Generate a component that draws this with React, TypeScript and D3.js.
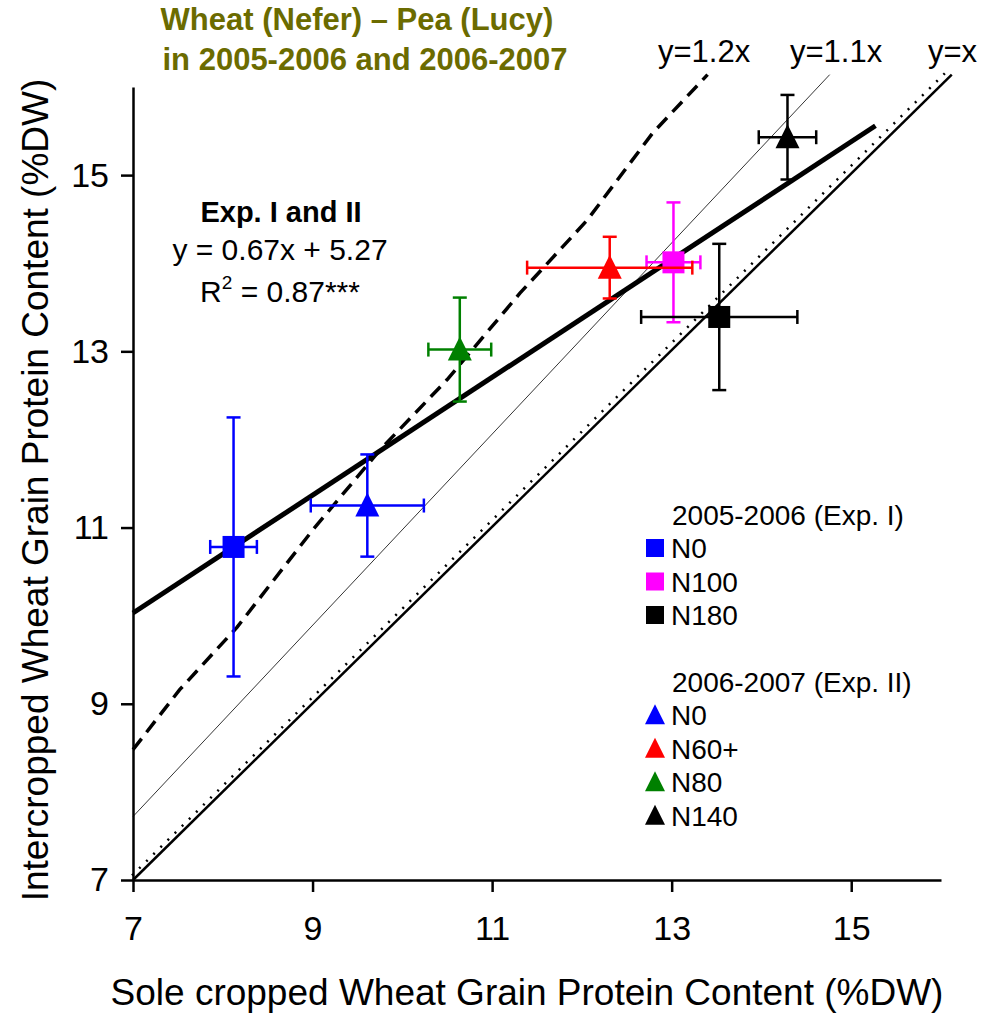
import React, { useEffect, useRef } from 'react'
import * as d3 from 'd3'

// treatment means with SE (x = sole crop, y = intercrop)
const treatments = ['N0', 'N100', 'N180', 'N0', 'N60+', 'N80', 'N140']
const experiment = ['I', 'I', 'I', 'II', 'II', 'II', 'II']
const soleMean = [8.12, 13.02, 13.53, 9.61, 12.31, 10.64, 14.29]
const soleErr = [0.26, 0.3, 0.87, 0.63, 0.92, 0.35, 0.32]
const interMean = [10.78, 14.01, 13.39, 11.25, 13.95, 13.02, 15.43]
const interErr = [1.47, 0.68, 0.83, 0.58, 0.35, 0.59, 0.48]
const pointColors = ['#0000ff', '#ff00ff', '#000000', '#0000ff', '#ff0000', '#008000', '#000000']

const expHeaders = ['2005-2006 (Exp. I)', '2006-2007 (Exp. II)']

// reference lines as drawn
const line12x = [7, 7.52, 8.16, 9.0, 9.75, 10.5, 11.31, 12.06, 12.79, 13.4]
const line12y = [8.48, 9.16, 9.87, 10.97, 11.88, 12.68, 13.66, 14.49, 15.48, 16.14]
const line11x = [7, 14.76]
const line11y = [7.72, 16.14]
const line1x = [7, 16.12]
const line1y = [7, 16.14]
const dottedX = [7, 16.08]
const dottedY = [7.04, 16.17]
const regX = [7, 15.27]
const regY = [10.03, 15.56]
const lineLabels = ['y=1.2x', 'y=1.1x', 'y=x']

const xTicks = [7, 9, 11, 13, 15]
const yTicks = [7, 9, 11, 13, 15]

const W = 982, H = 1014
const FONT = '"Liberation Sans", Arial, sans-serif'

const x = d3.scaleLinear().domain([7, 16]).range([133, 941])
const y = d3.scaleLinear().domain([7, 16]).range([880, 87])

const zip = (xs: number[], ys: number[]) => xs.map((v, i) => [v, ys[i]] as [number, number])
const line = d3.line<[number, number]>().x(d => x(d[0])).y(d => y(d[1]))

function Marker({ shape, color, cx, cy, s }: any) {
  if (shape === 'I') return <rect x={cx - s / 2} y={cy - s / 2} width={s} height={s} fill={color} />
  const h = s * 1.0
  return <path d={`M${cx},${cy - h * 0.54}L${cx + s / 2},${cy + h * 0.46}L${cx - s / 2},${cy + h * 0.46}Z`} fill={color} />
}

export default function App() {
  const xRef = useRef<SVGGElement>(null)
  const yRef = useRef<SVGGElement>(null)

  useEffect(() => {
    const gx = d3.select(xRef.current!)
    gx.selectAll('*').remove()
    gx.call(d3.axisBottom(x).tickValues(xTicks).tickSize(12).tickSizeOuter(0).tickPadding(24))
    gx.select('.domain').attr('stroke-width', 2.5)
    gx.selectAll('.tick line').attr('stroke-width', 2.5)
    gx.selectAll('.tick text').attr('font-size', 34).attr('font-family', FONT).attr('fill', '#000')

    const gy = d3.select(yRef.current!)
    gy.selectAll('*').remove()
    gy.call(d3.axisLeft(y).tickValues(yTicks).tickSize(12).tickSizeOuter(0).tickPadding(12))
    gy.select('.domain').attr('stroke-width', 2.5)
    gy.selectAll('.tick line').attr('stroke-width', 2.5)
    gy.selectAll('.tick text').attr('font-size', 34).attr('font-family', FONT).attr('fill', '#000')
  }, [])

  const legendRows: any[] = []
  let base = 558
  expHeaders.forEach((hdr, e) => {
    const code = e === 0 ? 'I' : 'II'
    legendRows.push(
      <text key={'h' + e} x={672} y={base - 33} fontSize={28}>{hdr}</text>
    )
    treatments.forEach((t, i) => {
      if (experiment[i] !== code) return
      legendRows.push(
        <g key={'l' + i}>
          <Marker shape={code} color={pointColors[i]} cx={655} cy={base - 10} s={code === 'I' ? 18 : 20} />
          <text x={671} y={base} fontSize={28}>{t}</text>
        </g>
      )
      base += 33.5
    })
    base = 725
  })

  return (
    <svg width={W} height={H} style={{ position: 'absolute', left: 0, top: 0, background: '#fff' }} fontFamily={FONT}>
      <text x={357} y={30} textAnchor="middle" fontSize={31} fontWeight="bold" fill="#6b6b00">Wheat (Nefer) – Pea (Lucy)</text>
      <text x={365} y={70} textAnchor="middle" fontSize={31} fontWeight="bold" fill="#6b6b00">in 2005-2006 and 2006-2007</text>

      {/* reference lines */}
      <path d={line(zip(line12x, line12y))!} fill="none" stroke="#000" strokeWidth={3.5} strokeDasharray="14 8" />
      <path d={line(zip(line11x, line11y))!} fill="none" stroke="#000" strokeWidth={0.8} />
      <path d={line(zip(line1x, line1y))!} fill="none" stroke="#000" strokeWidth={2.5} />
      <path d={line(zip(dottedX, dottedY))!} fill="none" stroke="#000" strokeWidth={2.5} strokeDasharray="2 8" transform="translate(-1,-1)" />
      <path d={line(zip(regX, regY))!} fill="none" stroke="#000" strokeWidth={5} />

      <text x={658} y={62} fontSize={31}>{lineLabels[0]}</text>
      <text x={790} y={62} fontSize={31}>{lineLabels[1]}</text>
      <text x={928} y={62} fontSize={31}>{lineLabels[2]}</text>

      <g ref={xRef} transform={`translate(0,${y(7)})`} />
      <g ref={yRef} transform={`translate(${x(7)},0)`} />

      {/* error bars and markers */}
      {treatments.map((t, i) => {
        const cx = x(soleMean[i]), cy = y(interMean[i])
        const x0 = x(soleMean[i] - soleErr[i]), x1 = x(soleMean[i] + soleErr[i])
        const y0 = y(interMean[i] - interErr[i]), y1 = y(interMean[i] + interErr[i])
        const c = pointColors[i], cap = 7
        return (
          <g key={i} stroke={c} strokeWidth={2.5}>
            <line x1={x0} x2={x1} y1={cy} y2={cy} />
            <line x1={x0} x2={x0} y1={cy - cap} y2={cy + cap} />
            <line x1={x1} x2={x1} y1={cy - cap} y2={cy + cap} />
            <line x1={cx} x2={cx} y1={y0} y2={y1} />
            <line x1={cx - cap} x2={cx + cap} y1={y0} y2={y0} />
            <line x1={cx - cap} x2={cx + cap} y1={y1} y2={y1} />
            <g stroke="none">
              <Marker shape={experiment[i]} color={c} cx={cx} cy={cy} s={experiment[i] === 'I' ? 22 : 24} />
            </g>
          </g>
        )
      })}

      <text x={281} y={222} textAnchor="middle" fontSize={29} fontWeight="bold">Exp. I and II</text>
      <text x={280} y={260} textAnchor="middle" fontSize={30}>y = 0.67x + 5.27</text>
      <text x={280} y={302} textAnchor="middle" fontSize={30}>
        R<tspan dy={-13} fontSize={19}>2</tspan><tspan dy={13}> = 0.87***</tspan>
      </text>

      {legendRows}

      <text x={527} y={1005} textAnchor="middle" fontSize={37}>Sole cropped Wheat Grain Protein Content (%DW)</text>
      <text transform="translate(48,490) rotate(-90)" textAnchor="middle" fontSize={37}>Intercropped Wheat Grain Protein Content (%DW)</text>
    </svg>
  )
}
